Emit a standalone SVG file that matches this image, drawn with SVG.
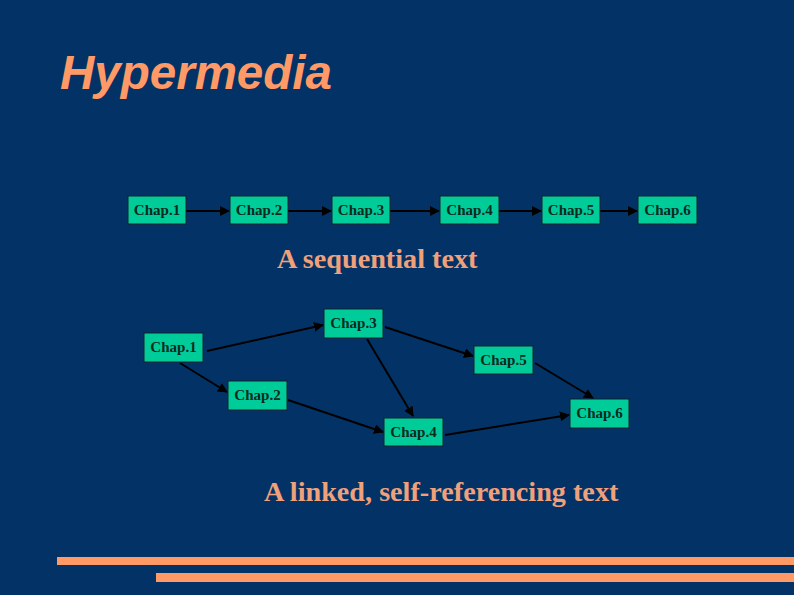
<svg xmlns="http://www.w3.org/2000/svg" width="794" height="595" viewBox="0 0 794 595">
<style>
.box{fill:#00CC99;stroke:#10202a;stroke-width:1}
.lbl{font-family:"Liberation Serif",serif;font-weight:bold;font-size:15px;fill:#0a2a1e;text-anchor:middle}
.cap{font-family:"Liberation Serif",serif;font-weight:bold;font-size:28.2px;fill:#F0A07A}
.ln{stroke:#000;stroke-width:2;fill:none;marker-end:url(#ah)}
</style>
<defs>
<marker id="ah" viewBox="0 0 10 10" refX="9" refY="5" markerWidth="5" markerHeight="5" orient="auto" markerUnits="strokeWidth">
<path d="M0,0 L10,5 L0,10 z" fill="#000"/>
</marker>
</defs>
<rect width="794" height="595" fill="#033366"/>
<text x="60" y="89" font-family="Liberation Sans,Arial,sans-serif" font-weight="bold" font-style="italic" font-size="47.5" fill="#FF9966">Hypermedia</text>
<g id="connectors">
<line class="ln" x1="186" y1="211" x2="229" y2="211"/>
<line class="ln" x1="288" y1="211" x2="331" y2="211"/>
<line class="ln" x1="390" y1="211" x2="439" y2="211"/>
<line class="ln" x1="499" y1="211" x2="541" y2="211"/>
<line class="ln" x1="600" y1="211" x2="637" y2="211"/>
<line class="ln" x1="207" y1="351" x2="323" y2="325"/>
<line class="ln" x1="180" y1="363" x2="227" y2="392"/>
<line class="ln" x1="385" y1="327" x2="473" y2="356"/>
<line class="ln" x1="367" y1="339" x2="413" y2="416"/>
<line class="ln" x1="288" y1="400" x2="383" y2="432"/>
<line class="ln" x1="535" y1="363" x2="593" y2="398"/>
<line class="ln" x1="445" y1="435" x2="569" y2="415"/>
</g>
<g id="s1"><rect class="box" x="128" y="196" width="58" height="28"/><text class="lbl" x="157" y="215">Chap.1</text></g>
<g id="s2"><rect class="box" x="230" y="196" width="58" height="28"/><text class="lbl" x="259" y="215">Chap.2</text></g>
<g id="s3"><rect class="box" x="332" y="196" width="58" height="28"/><text class="lbl" x="361" y="215">Chap.3</text></g>
<g id="s4"><rect class="box" x="440" y="196" width="59" height="28"/><text class="lbl" x="469.5" y="215">Chap.4</text></g>
<g id="s5"><rect class="box" x="542" y="196" width="58" height="28"/><text class="lbl" x="571" y="215">Chap.5</text></g>
<g id="s6"><rect class="box" x="638" y="196" width="59" height="28"/><text class="lbl" x="667.5" y="215">Chap.6</text></g>
<text class="cap" x="277" y="268">A sequential text</text>
<g id="l1"><rect class="box" x="144" y="333" width="59" height="29"/><text class="lbl" x="173.5" y="352">Chap.1</text></g>
<g id="l3"><rect class="box" x="324" y="309" width="59" height="29"/><text class="lbl" x="353.5" y="328">Chap.3</text></g>
<g id="l2"><rect class="box" x="228" y="381" width="59" height="29"/><text class="lbl" x="257.5" y="400">Chap.2</text></g>
<g id="l5"><rect class="box" x="474" y="346" width="59" height="28"/><text class="lbl" x="503.5" y="365">Chap.5</text></g>
<g id="l6"><rect class="box" x="570" y="399" width="59" height="29"/><text class="lbl" x="599.5" y="418">Chap.6</text></g>
<g id="l4"><rect class="box" x="384" y="418" width="59" height="28"/><text class="lbl" x="413.5" y="437">Chap.4</text></g>
<text class="cap" x="264" y="501">A linked, self-referencing text</text>
<rect x="57" y="557" width="737" height="8" fill="#FF9966"/>
<rect x="156" y="573" width="638" height="9" fill="#FF9966"/>
</svg>
